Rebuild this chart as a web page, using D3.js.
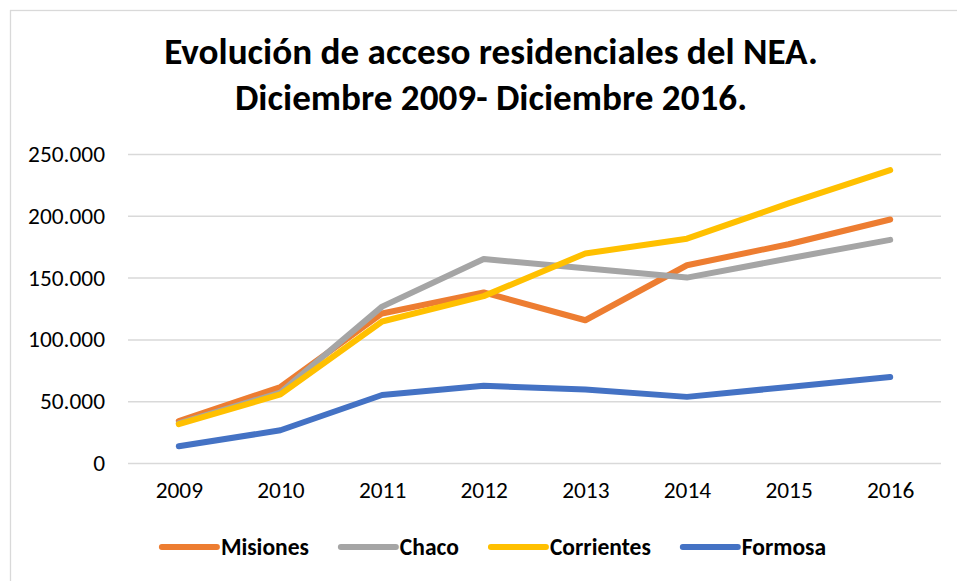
<!DOCTYPE html>
<html>
<head>
<meta charset="utf-8">
<script src="https://cdn.jsdelivr.net/npm/d3@7"></script>
<style>
  html, body { margin: 0; padding: 0; background: #fff; }
  svg { display: block; }
</style>
</head>
<body>
<svg id="chart" width="957" height="581"></svg>
<script>
const titleLines = ["Evolución de acceso residenciales del NEA.", "Diciembre 2009- Diciembre 2016."];
const years = ["2009", "2010", "2011", "2012", "2013", "2014", "2015", "2016"];
const seriesNames = ["Misiones", "Chaco", "Corrientes", "Formosa"];
const misiones   = [34000, 61500, 121000, 138000, 115500, 160000, 177000, 197000];
const chaco      = [32000, 57000, 126500, 165000, 157500, 150000, 165500, 180500];
const corrientes = [31500, 55500, 114500, 135000, 169500, 181500, 210000, 237000];
const formosa    = [13500, 26500, 55000, 62500, 59500, 53500, 61500, 69500];
const yTicks = [0, 50000, 100000, 150000, 200000, 250000];
const seriesColors = ["#ED7D31", "#A5A5A5", "#FFC000", "#4472C4"];

const seriesValues = [misiones, chaco, corrientes, formosa];
const fontFam = "Carlito, Calibri, Lato, 'Liberation Sans', sans-serif";

const svg = d3.select("#chart");
const W = 957, H = 581;

// chart area frame (extends past the window on right/bottom)
svg.append("rect").attr("x", 10.5).attr("y", 10.5).attr("width", 980).attr("height", 600)
  .attr("fill", "#fff").attr("stroke", "#d9d9d9").attr("stroke-width", 1.3);

// helper: fit font size so text reaches a target width
function fit(sel, target) {
  const base = parseFloat(sel.attr("font-size"));
  const w = sel.node().getComputedTextLength();
  const fs = base * target / w;
  sel.attr("font-size", fs);
  return fs;
}

// Title
const t1 = svg.append("text").attr("x", 491).attr("y", 64).attr("text-anchor", "middle")
  .attr("font-family", fontFam).attr("font-weight", "bold").attr("font-size", 30)
  .attr("fill", "#000").text(titleLines[0]);
const tfs = fit(t1, 654);
svg.append("text").attr("x", 491).attr("y", 110).attr("text-anchor", "middle")
  .attr("font-family", fontFam).attr("font-weight", "bold").attr("font-size", tfs)
  .attr("fill", "#000").text(titleLines[1]);

// Scales
const x = d3.scaleBand().domain(years).range([128, 941]).paddingInner(0).paddingOuter(0);
const cx = d => x(d) + x.bandwidth() / 2;
const y = d3.scaleLinear().domain([0, 250000]).range([463, 154]);

const loc = d3.formatLocale({ decimal: ",", thousands: ".", grouping: [3], currency: ["$", ""] });
const fmt = loc.format(",d");

// measure tick font size
const probe = svg.append("text").attr("font-family", fontFam).attr("font-size", 20).text("250.000");
const tickFs = 20 * 77 / probe.node().getComputedTextLength();
probe.remove();

// Y axis with gridlines
const yAxis = d3.axisLeft(y).tickValues(yTicks).tickFormat(fmt).tickSize(-(941 - 128)).tickPadding(23);
const gy = svg.append("g").attr("transform", "translate(128,0)").call(yAxis);
gy.select(".domain").remove();
gy.selectAll(".tick line").attr("stroke", "#d9d9d9").attr("stroke-width", 1.5);
gy.selectAll(".tick text").attr("font-family", fontFam).attr("font-size", tickFs).attr("fill", "#000");

// X axis labels
const xAxis = d3.axisBottom(d3.scalePoint().domain(years).range([cx(years[0]), cx(years[years.length - 1])]))
  .tickSize(0).tickPadding(18);
const gx = svg.append("g").attr("transform", "translate(0,463)").call(xAxis);
gx.select(".domain").remove();
gx.selectAll(".tick text").attr("font-family", fontFam).attr("font-size", tickFs).attr("fill", "#000");

// Lines
const line = d3.line().x((d, i) => cx(years[i])).y(d => y(d));
seriesValues.forEach((vals, k) => {
  svg.append("path").datum(vals).attr("d", line)
    .attr("fill", "none").attr("stroke", seriesColors[k]).attr("stroke-width", 6)
    .attr("stroke-linejoin", "round").attr("stroke-linecap", "round");
});

// Legend
const lg = svg.append("g");
const probe2 = svg.append("text").attr("font-family", fontFam).attr("font-weight", "bold")
  .attr("font-size", 20).text(seriesNames[0]);
const legFs = 20 * 88 / probe2.node().getComputedTextLength();
probe2.remove();
let cursor = 0;
const items = [];
seriesNames.forEach((name, k) => {
  const g = lg.append("g");
  g.append("line").attr("x1", 0).attr("x2", 55).attr("y1", 0).attr("y2", 0)
    .attr("stroke", seriesColors[k]).attr("stroke-width", 6).attr("stroke-linecap", "round");
  const tx = g.append("text").attr("x", 59).attr("y", 0).attr("dy", "0.35em")
    .attr("font-family", fontFam).attr("font-weight", "bold").attr("font-size", legFs)
    .attr("fill", "#000").text(name);
  const w = 59 + tx.node().getComputedTextLength();
  g.attr("transform", `translate(${cursor},0)`);
  cursor += w + 32;
});
const totalW = cursor - 32;
lg.attr("transform", `translate(${494 - totalW / 2},547)`);
</script>
</body>
</html>
